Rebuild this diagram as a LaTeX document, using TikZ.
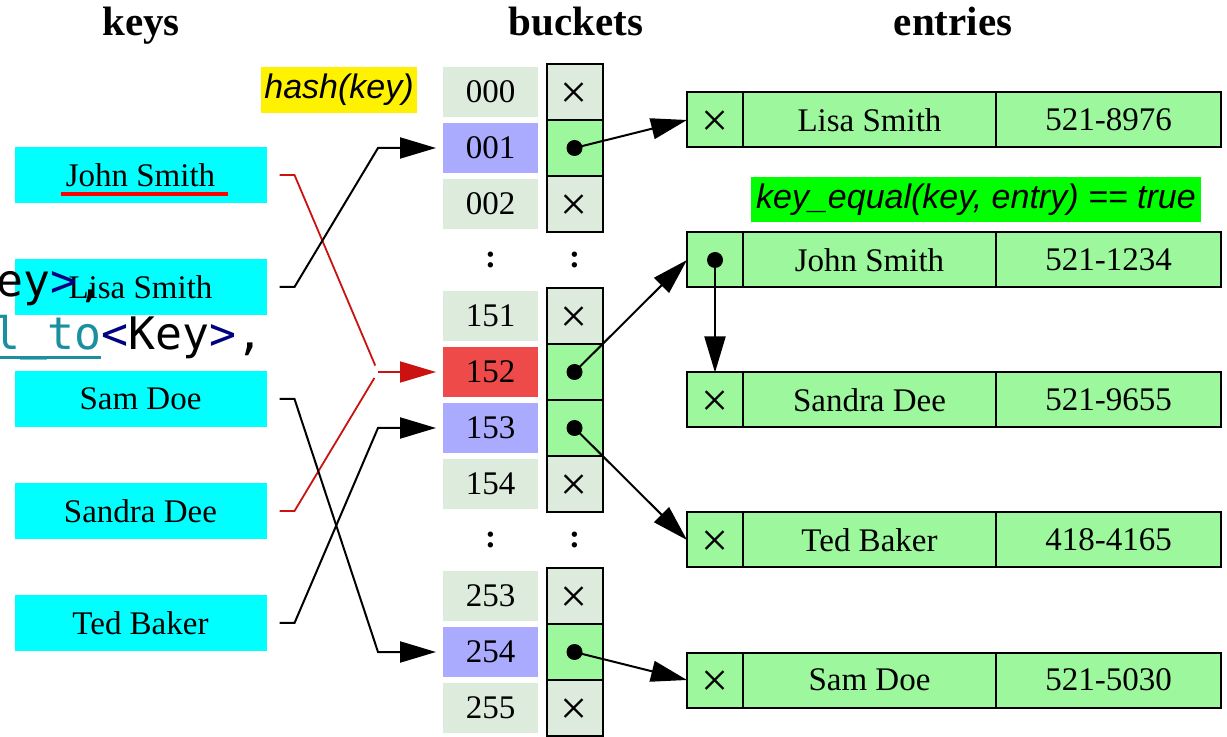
\documentclass[tikz,border=0pt]{standalone}
\usepackage{fontspec}
\setmainfont{Liberation Serif}
\newfontfamily\notefont{Liberation Sans}
\newfontfamily\codefont{DejaVu Sans Mono}
\usetikzlibrary{positioning,arrows.meta}

\definecolor{keycyan}{HTML}{00FFFF}
\definecolor{slotgrey}{HTML}{DCEBDC}
\definecolor{slotblue}{HTML}{AAAAFF}
\definecolor{slotred}{HTML}{EE4A4A}
\definecolor{cellgreen}{HTML}{9DF89D}
\definecolor{hashred}{HTML}{CC1111}
\definecolor{markred}{HTML}{FF0000}
\definecolor{codenavy}{HTML}{000080}
\definecolor{codeteal}{HTML}{1A8FA0}

\newcommand\cellfont{\fontsize{16.5}{18}\selectfont}
\newcommand\nilmark{\raisebox{-2pt}[\height][\depth]{\fontsize{24}{24}\selectfont ×}}

\tikzset{
  title/.style={anchor=base, inner sep=0pt, font=\fontsize{20.5}{22}\selectfont\bfseries},
  keybox/.style={fill=keycyan, minimum width=126pt, minimum height=28pt, inner sep=0pt, outer sep=0pt, font=\cellfont},
  slot/.style={fill=slotgrey, minimum width=47.5pt, minimum height=25pt, inner sep=0pt, outer sep=0pt, font=\cellfont},
  cell/.style={draw, line width=1pt, fill=slotgrey, minimum width=28pt, minimum height=28pt, inner sep=0pt, outer sep=0pt, font=\cellfont},
  full/.style={fill=cellgreen},
  entrycell/.style={draw, line width=1pt, fill=cellgreen, minimum height=27.5pt, inner sep=0pt, outer sep=0pt, font=\cellfont},
  gap/.style={inner sep=0pt, font=\cellfont\bfseries},
  dot/.style={circle, fill=black, minimum size=8pt, inner sep=0pt},
  link/.style={line width=1pt, -{Triangle[length=18pt,width=10.5pt]}},
  hashlink/.style={line width=1pt, shorten >=3.5pt},
  note/.style={inner sep=0pt, font=\notefont\itshape\fontsize{17}{18}\selectfont},
  code/.style={anchor=base west, inner sep=0pt, font=\codefont\fontsize{22.4}{24}\selectfont},
}

\begin{document}
\begin{tikzpicture}[x=0.5pt,y=-0.5pt]
        \useasboundingbox[fill=white] (0,0) rectangle (1227,737);

        % column titles
        \node[title] at (141,36) (tkeys) {keys};
        \node[title] at (576,36) (tbuckets) {buckets};
        \node[title] at (953,36) (tentries) {entries};

        % keys
        \node[keybox] at (140.5,175) (johnsmith) {John Smith};
        \node[keybox] at (140.5,287) (lisasmith) {Lisa Smith};
        \node[keybox] at (140.5,399) (samdoe) {Sam Doe};
        \node[keybox] at (140.5,511) (sandradee) {Sandra Dee};
        \node[keybox] at (140.5,623) (tedbaker) {Ted Baker};
        \draw[markred, line width=2.2pt] (61,194) -- (228,194);

        % bucket labels
        \node[slot] at (490.5,92) (b000) {000};
        \node[slot, fill=slotblue] at (490.5,148) (b001) {001};
        \node[slot] at (490.5,204) (b002) {002};
        \node[slot] at (490.5,316) (b151) {151};
        \node[slot, fill=slotred] at (490.5,372) (b152) {152};
        \node[slot, fill=slotblue] at (490.5,428) (b153) {153};
        \node[slot] at (490.5,484) (b154) {154};
        \node[slot] at (490.5,596) (b253) {253};
        \node[slot, fill=slotblue] at (490.5,652) (b254) {254};
        \node[slot] at (490.5,708) (b255) {255};
        \node[gap] at (490.5,260) (gapa) {:};
        \node[gap] at (490.5,540) (gapb) {:};

        % bucket pointers
        \node[cell] at (574.5,92) (p000) {\nilmark};
        \node[cell, full] at (574.5,148) (p001) {};
        \node[cell] at (574.5,204) (p002) {\nilmark};
        \node[cell] at (574.5,316) (p151) {\nilmark};
        \node[cell, full] at (574.5,372) (p152) {};
        \node[cell, full] at (574.5,428) (p153) {};
        \node[cell] at (574.5,484) (p154) {\nilmark};
        \node[cell] at (574.5,596) (p253) {\nilmark};
        \node[cell, full] at (574.5,652) (p254) {};
        \node[cell] at (574.5,708) (p255) {\nilmark};
        \node[gap] at (574.5,260) (gapc) {:};
        \node[gap] at (574.5,540) (gapd) {:};

        % entries
        \node[entrycell, minimum width=28pt] at (715,120) (lisaptr) {\nilmark};
        \node[entrycell, minimum width=126.5pt, right=0pt of lisaptr] (lisaname) {Lisa Smith};
        \node[entrycell, minimum width=112.5pt, right=0pt of lisaname] (lisanum) {521-8976};
        \node[entrycell, minimum width=28pt] at (715,260) (johnptr) {};
        \node[entrycell, minimum width=126.5pt, right=0pt of johnptr] (johnname) {John Smith};
        \node[entrycell, minimum width=112.5pt, right=0pt of johnname] (johnnum) {521-1234};
        \node[entrycell, minimum width=28pt] at (715,400) (sandraptr) {\nilmark};
        \node[entrycell, minimum width=126.5pt, right=0pt of sandraptr] (sandraname) {Sandra Dee};
        \node[entrycell, minimum width=112.5pt, right=0pt of sandraname] (sandranum) {521-9655};
        \node[entrycell, minimum width=28pt] at (715,540) (tedptr) {\nilmark};
        \node[entrycell, minimum width=126.5pt, right=0pt of tedptr] (tedname) {Ted Baker};
        \node[entrycell, minimum width=112.5pt, right=0pt of tedname] (tednum) {418-4165};
        \node[entrycell, minimum width=28pt] at (715,680) (samptr) {\nilmark};
        \node[entrycell, minimum width=126.5pt, right=0pt of samptr] (samname) {Sam Doe};
        \node[entrycell, minimum width=112.5pt, right=0pt of samname] (samnum) {521-5030};

        % notes
        \node[note, fill=yellow, minimum width=78pt, minimum height=23pt] at (339,90) (hashnote) {hash(key)};
        \node[note, fill=green, minimum width=225pt, minimum height=22.5pt] at (976,200) (equalnote) {key\_equal(key, entry) == true};

        % hash connectors
        \coordinate (m001) at ([xshift=-32.5pt]b001.west);
        \coordinate (m152) at ([xshift=-32.5pt]b152.west);
        \coordinate (m153) at ([xshift=-32.5pt]b153.west);
        \coordinate (m254) at ([xshift=-32.5pt]b254.west);
        \draw[hashlink, hashred, line width=0.9pt] ([xshift=6.5pt]johnsmith.east) -- ++(7.5pt,0) -- (m152);
        \draw[hashlink, hashred, line width=0.9pt] ([xshift=6.5pt]sandradee.east) -- ++(7.5pt,0) -- (m152);
        \draw[hashlink, hashred, line width=0.9pt, -{Triangle[length=18pt,width=10.5pt]}] (m152) -- (b152.west);
        \draw[hashlink, -{Triangle[length=18pt,width=10.5pt]}] ([xshift=6.5pt]lisasmith.east) -- ++(7.5pt,0) -- (m001) -- (b001.west);
        \draw[hashlink, -{Triangle[length=18pt,width=10.5pt]}] ([xshift=6.5pt]samdoe.east) -- ++(7.5pt,0) -- (m254) -- (b254.west);
        \draw[hashlink, -{Triangle[length=18pt,width=10.5pt]}] ([xshift=6.5pt]tedbaker.east) -- ++(7.5pt,0) -- (m153) -- (b153.west);

        % chain pointers
        \draw[link] (p001.center) -- (lisaptr.west);
        \draw[link] (p152.center) -- (johnptr.west);
        \draw[link] (p153.center) -- (tedptr.west);
        \draw[link] (p254.center) -- (samptr.west);
        \draw[link] (johnptr.center) -- (sandraptr.north);
        \node[dot] at (p001.center) (d001) {};
        \node[dot] at (p152.center) (d152) {};
        \node[dot] at (p153.center) (d153) {};
        \node[dot] at (p254.center) (d254) {};
        \node[dot] at (johnptr.center) (djohn) {};

        % stray code text
        \node[code] at (-4,297) (codea) {ey\textcolor{codenavy}{>},};
        \node[code] at (-34,350) (codeb) {\textcolor{codeteal}{\rlap{\rule[-4.4pt]{67.4pt}{1.6pt}}al\_to}\textcolor{codenavy}{<}Key\textcolor{codenavy}{>},};
    \end{tikzpicture}
\end{document}
